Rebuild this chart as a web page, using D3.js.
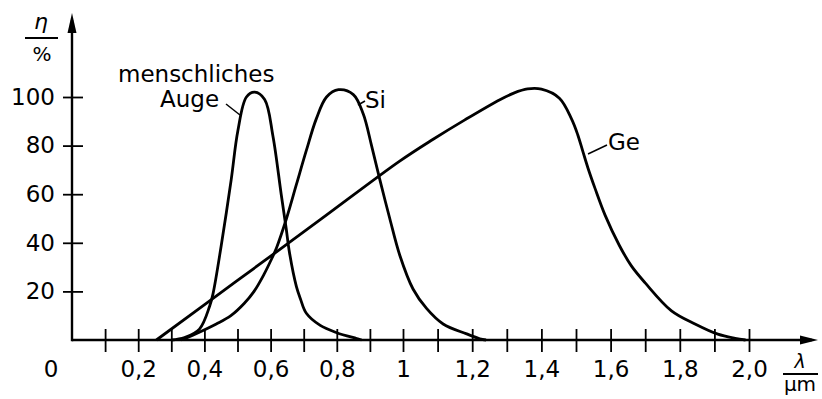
<!DOCTYPE html>
<html>
<head>
<meta charset="utf-8">
<script src="https://cdn.jsdelivr.net/npm/d3@7"></script>
<style>
  body { margin: 0; background: #fff; }
  text { font-family: "DejaVu Sans", sans-serif; fill: #000; }
</style>
</head>
<body>
<svg width="822" height="399"></svg>
<script>
// Data: wavelength in µm, relative sensitivity in %
const auge_lambda = [0.30, 0.34, 0.385, 0.416, 0.426, 0.451, 0.481, 0.501, 0.527, 0.552, 0.582, 0.607, 0.632, 0.647, 0.657, 0.678, 0.69, 0.708, 0.75, 0.80, 0.86, 0.875];
const auge_eta    = [0,    1,    4.5,   14,    19,    39,    66,    86,    100,   102,   99,    84,    60,    46,    36,    22,    17,   11,    6,    3,    0.6,  0];

const si_lambda = [0.33, 0.365, 0.436, 0.48, 0.52, 0.55, 0.58, 0.60, 0.618, 0.648, 0.678, 0.708, 0.738, 0.769, 0.805, 0.85, 0.88, 0.905, 0.93, 0.96, 0.99, 1.029, 1.068, 1.116, 1.184, 1.222, 1.24];
const si_eta    = [0,    2,     6.6,   10,   15,   20,   27,   32.5, 38,    50,    64,    78,    91,    100,   103,   101,  93,   80,    66,   50,   35,   21,    13,    6.6,   2.5,   0.5,   0];

const ge_lambda = [0.255, 0.5,  0.75, 0.99, 1.086, 1.18, 1.28, 1.32,  1.36,  1.40,  1.452, 1.487, 1.505, 1.52, 1.535, 1.555, 1.584, 1.625, 1.66, 1.70, 1.776, 1.844, 1.91, 1.96, 1.99];
const ge_eta    = [0,     24.5, 49.5, 73.6, 82.5,  90.7, 98.9, 101.6, 103.3, 103.2, 99.5,  91,    84.5,  77.5, 70.6,  62.4,  51.4,  39,    30.5, 23.5, 12,    6.6,   2.4,  0.7,  0];

const x_ticks = [0.1, 0.2, 0.3, 0.4, 0.5, 0.6, 0.7, 0.8, 0.9, 1.0, 1.1, 1.2, 1.3, 1.4, 1.5, 1.6, 1.7, 1.8, 1.9, 2.0];
const x_labels = { 0.2: '0,2', 0.4: '0,4', 0.6: '0,6', 0.8: '0,8', 1.0: '1', 1.2: '1,2', 1.4: '1,4', 1.6: '1,6', 1.8: '1,8', 2.0: '2,0' };
const y_ticks = [20, 40, 60, 80, 100];

// Constants
const svg = d3.select('svg');
const font_size = 23;

const x_scale = d3.scaleLinear()
    .domain([0, 1, 2])
    .range([72, 403, 749]);
const y_scale = d3.scaleLinear()
    .domain([0, 100])
    .range([340, 97]);

const x0 = x_scale(0);
const y0 = y_scale(0);

// X axis ticks + labels
const x_axis = svg.append('g')
    .attr('transform', `translate(0, ${y0})`)
    .call(d3.axisBottom(x_scale)
        .tickValues(x_ticks)
        .tickSize(12)
        .tickPadding(9)
        .tickFormat(d => x_labels[d] || ''));
x_axis.select('.domain').remove();
x_axis.selectAll('.tick line')
    .attr('y1', -11)
    .attr('y2', 12)
    .attr('stroke', '#000')
    .attr('stroke-width', 1.8);
x_axis.selectAll('.tick text')
    .attr('font-size', font_size)
    .attr('font-family', '"DejaVu Sans", sans-serif')
    .attr('fill', '#000');

// Y axis ticks + labels
const y_axis = svg.append('g')
    .attr('transform', `translate(${x0}, 0)`)
    .call(d3.axisLeft(y_scale)
        .tickValues(y_ticks)
        .tickSize(9)
        .tickPadding(8));
y_axis.select('.domain').remove();
y_axis.selectAll('.tick line')
    .attr('x1', -9)
    .attr('x2', 11)
    .attr('stroke', '#000')
    .attr('stroke-width', 1.8);
y_axis.selectAll('.tick text')
    .attr('font-size', font_size)
    .attr('font-family', '"DejaVu Sans", sans-serif')
    .attr('fill', '#000');

// Axis lines with arrows
svg.append('line')
    .attr('x1', x0).attr('y1', y0)
    .attr('x2', 812).attr('y2', y0)
    .attr('stroke', '#000').attr('stroke-width', 2.4);
svg.append('path')
    .attr('d', `M818,${y0} L800,${y0 - 4.5} L800,${y0 + 4.5} Z`)
    .attr('fill', '#000');
svg.append('line')
    .attr('x1', x0).attr('y1', y0 + 1.2)
    .attr('x2', x0).attr('y2', 20)
    .attr('stroke', '#000').attr('stroke-width', 2.4);
svg.append('path')
    .attr('d', `M${x0},13 L${x0 - 4.5},33 L${x0 + 4.5},33 Z`)
    .attr('fill', '#000');

// Origin label
svg.append('text')
    .attr('x', 51)
    .attr('y', 377)
    .attr('text-anchor', 'middle')
    .attr('font-size', font_size)
    .text('0');

// Axis titles
svg.append('text')
    .attr('x', 41).attr('y', 29)
    .attr('text-anchor', 'middle')
    .attr('font-size', 22)
    .attr('font-style', 'italic')
    .text('η');
svg.append('line')
    .attr('x1', 25).attr('x2', 58)
    .attr('y1', 38).attr('y2', 38)
    .attr('stroke', '#000').attr('stroke-width', 2);
svg.append('text')
    .attr('x', 42).attr('y', 61)
    .attr('text-anchor', 'middle')
    .attr('font-size', 20)
    .text('%');

svg.append('text')
    .attr('x', 800).attr('y', 368)
    .attr('text-anchor', 'middle')
    .attr('font-size', 19)
    .attr('font-style', 'italic')
    .text('λ');
svg.append('line')
    .attr('x1', 783).attr('x2', 818)
    .attr('y1', 374).attr('y2', 374)
    .attr('stroke', '#000').attr('stroke-width', 2);
svg.append('text')
    .attr('x', 800).attr('y', 391)
    .attr('text-anchor', 'middle')
    .attr('font-size', 20)
    .text('µm');

// Curves
const line = d3.line()
    .x(d => x_scale(d[0]))
    .y(d => y_scale(d[1]))
    .curve(d3.curveCatmullRom.alpha(0.5));

const series = [
    d3.zip(auge_lambda, auge_eta),
    d3.zip(si_lambda, si_eta),
    d3.zip(ge_lambda, ge_eta)
];
svg.selectAll('.curve')
    .data(series)
    .enter()
    .append('path')
    .attr('class', 'curve')
    .attr('d', line)
    .attr('fill', 'none')
    .attr('stroke', '#000')
    .attr('stroke-width', 2.8)
    .attr('stroke-linejoin', 'round');

// Curve labels with leader lines
svg.append('text')
    .attr('x', 118).attr('y', 82)
    .attr('font-size', font_size)
    .text('menschliches');
svg.append('text')
    .attr('x', 160).attr('y', 107)
    .attr('font-size', font_size)
    .text('Auge');
svg.append('line')
    .attr('x1', 226).attr('y1', 104)
    .attr('x2', 240).attr('y2', 115)
    .attr('stroke', '#000').attr('stroke-width', 1.5);

svg.append('text')
    .attr('x', 365).attr('y', 108)
    .attr('font-size', font_size)
    .text('Si');
svg.append('line')
    .attr('x1', 358).attr('y1', 105)
    .attr('x2', 365).attr('y2', 101)
    .attr('stroke', '#000').attr('stroke-width', 1.5);

svg.append('text')
    .attr('x', 608).attr('y', 150)
    .attr('font-size', font_size)
    .text('Ge');
svg.append('line')
    .attr('x1', 588).attr('y1', 154)
    .attr('x2', 607).attr('y2', 145)
    .attr('stroke', '#000').attr('stroke-width', 1.5);
</script>
</body>
</html>
